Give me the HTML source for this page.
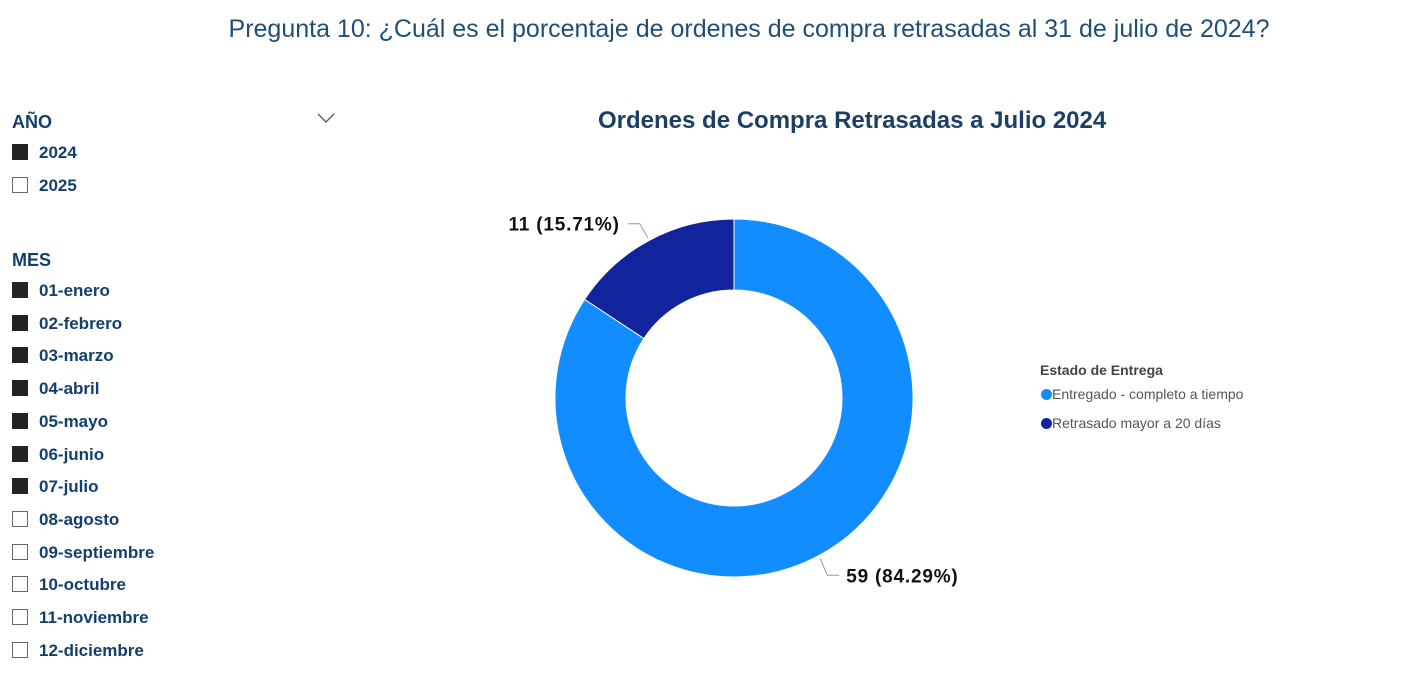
<!DOCTYPE html>
<html><head><meta charset="utf-8"><style>
body{margin:0;width:1426px;height:700px;background:#fff;font-family:"Liberation Sans",sans-serif;overflow:hidden;position:relative}
.t{position:absolute;white-space:nowrap}
.item{position:absolute;left:12px;height:20px;width:300px;font-weight:bold;font-size:17px;color:#123f6e}
.cb{position:absolute;left:0;top:1px;width:16px;height:16px;box-sizing:border-box;border:1px solid #666;background:#fff}
.cb.on{background:#222;border-color:#222}
.item span{position:absolute;left:27px;top:0;line-height:19px;white-space:nowrap}
.hdr{position:absolute;left:12px;font-weight:bold;font-size:18px;color:#123f6e}
</style></head><body>
<div class="t" style="left:0;width:1498px;text-align:center;top:15px;font-size:25px;color:#1f4e79;">Pregunta 10: ¿Cuál es el porcentaje de ordenes de compra retrasadas al 31 de julio de 2024?</div>
<div class="hdr" style="top:112px">AÑO</div>
<svg style="position:absolute;left:317px;top:112px" width="18" height="12"><path d="M1 2 L9 10 L17 2" fill="none" stroke="#555" stroke-width="1.3"/></svg>
<div id="slicers"></div>
<div class="t" style="left:598px;top:107px;font-size:24px;font-weight:bold;color:#1d3f66">Ordenes de Compra Retrasadas a Julio 2024</div>
<svg id="donut" style="position:absolute;left:0;top:0" width="1426" height="700"></svg>
<div class="t" style="left:1040px;top:362px;font-size:14px;font-weight:bold;color:#444">Estado de Entrega</div>
<div class="t" style="left:1041px;top:386px;font-size:14px;color:#555"><span style="display:inline-block;width:11px;height:11px;border-radius:50%;background:#118DFF;vertical-align:-1px"></span>Entregado - completo a tiempo</div>
<div class="t" style="left:1041px;top:415px;font-size:14px;color:#555"><span style="display:inline-block;width:11px;height:11px;border-radius:50%;background:#12239E;vertical-align:-1px"></span>Retrasado mayor a 20 días</div>
<script>
const categories=["Entregado - completo a tiempo","Retrasado mayor a 20 días"];
const values=[59,11];
const colors=["#118DFF","#12239E"];
const years=["2024","2025"];const yearsOn=[true,false];
const months=["01-enero","02-febrero","03-marzo","04-abril","05-mayo","06-junio","07-julio","08-agosto","09-septiembre","10-octubre","11-noviembre","12-diciembre"];
const monthsOn=[true,true,true,true,true,true,true,false,false,false,false,false];
const sl=document.getElementById('slicers');
function addItem(txt,on,top,name){const d=document.createElement('div');d.className='item';d.style.top=top+'px';


d.innerHTML='<div class="cb'+(on?' on':'')+'"></div><span>'+txt+'</span>';sl.appendChild(d);}
years.forEach((y,i)=>addItem(y,yearsOn[i],143+i*32.5,'year-option-'+y));
const h=document.createElement('div');h.className='hdr';h.style.top='250px';h.textContent='MES';


sl.appendChild(h);
months.forEach((m,i)=>addItem(m,monthsOn[i],281+i*32.7,'month-option-'+m));
const svg=document.getElementById('donut');const NS='http://www.w3.org/2000/svg';
const cx=734,cy=398,R=179,r=108;const total=values.reduce((a,b)=>a+b,0);
let a0=0;
function pt(a,rad){return [cx+rad*Math.sin(a),cy-rad*Math.cos(a)];}
values.forEach((v,i)=>{const a1=a0+v/total*2*Math.PI;const lg=(a1-a0)>Math.PI?1:0;
const [x1,y1]=pt(a0,R),[x2,y2]=pt(a1,R),[x3,y3]=pt(a1,r),[x4,y4]=pt(a0,r);
const p=document.createElementNS(NS,'path');
p.setAttribute('d',`M${x1} ${y1} A${R} ${R} 0 ${lg} 1 ${x2} ${y2} L${x3} ${y3} A${r} ${r} 0 ${lg} 0 ${x4} ${y4}Z`);
p.setAttribute('fill',colors[i]);p.setAttribute('stroke','#fff');p.setAttribute('stroke-width','1');


svg.appendChild(p);
const am=(a0+a1)/2;const [lx1,ly1]=pt(am,R+3);const right=Math.sin(am)>=0;const down=Math.cos(am)<0;
const lx2=lx1+(right?7:-8),ly2=ly1+(down?17:-14);
const lx3=lx2+(right?12:-12);
const l=document.createElementNS(NS,'polyline');l.setAttribute('points',`${lx1},${ly1} ${lx2},${ly2} ${lx3},${ly2}`);
l.setAttribute('fill','none');l.setAttribute('stroke','#999');


svg.appendChild(l);
const t=document.createElementNS(NS,'text');t.setAttribute('x',lx3+(right?7:-8));t.setAttribute('y',ly2+7);
t.setAttribute('text-anchor',right?'start':'end');t.setAttribute('font-size','19');t.setAttribute('font-weight','bold');t.setAttribute('fill','#111');
t.setAttribute('letter-spacing','0.8');
t.setAttribute('font-family','Liberation Sans, sans-serif');
t.textContent=v+' ('+(v/total*100).toFixed(2)+'%)';


svg.appendChild(t);a0=a1;});
</script>
</body></html>
